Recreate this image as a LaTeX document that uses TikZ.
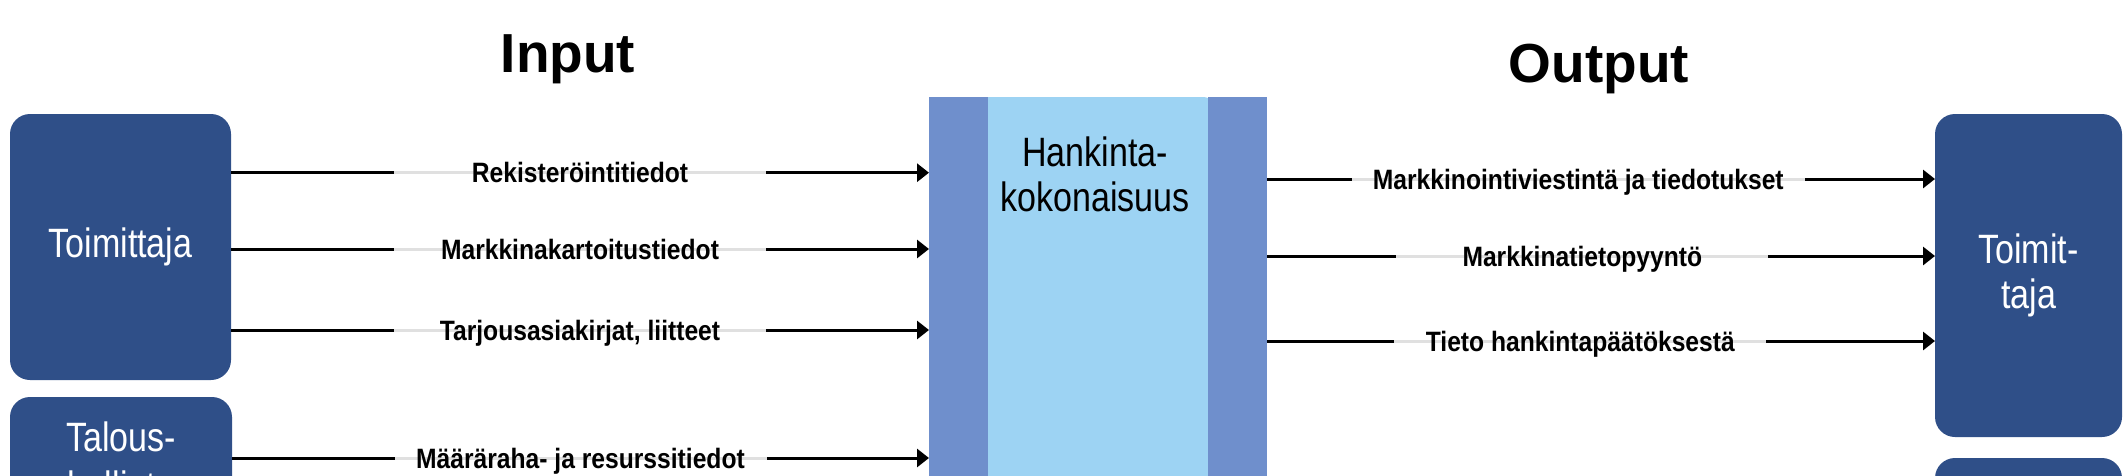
\documentclass[tikz,border=0pt]{standalone}
\usepackage{fontspec}
\setmainfont{Liberation Sans}
\newfontfamily\narrowsans[FakeStretch=0.83]{Liberation Sans}
\newfontfamily\labelsans[FakeStretch=0.88]{Liberation Sans}
\usepackage{tikz}
\usetikzlibrary{arrows.meta}
\usetikzlibrary{positioning}
\definecolor{actorblue}{RGB}{47,79,136}
\definecolor{bandblue}{RGB}{111,143,204}
\definecolor{coreblue}{RGB}{157,211,243}
\newcommand{\flowwidth}{3pt}
\newcommand{\bandheight}{520pt}
\tikzstyle{actor}=[fill=actorblue, rounded corners=20pt, text=white, align=center, font=\narrowsans\fontsize{41}{45}\selectfont]
\tikzstyle{band}=[fill=bandblue, anchor=north west, minimum width=59pt, minimum height=\bandheight]
\tikzstyle{core}=[fill=coreblue, anchor=north west, rounded corners=8pt, minimum width=232pt, minimum height=\bandheight]
\tikzstyle{flow}=[line width=\flowwidth, -{Triangle[length=12pt, width=18pt]}]
\tikzstyle{flowlabel}=[fill=white, fill opacity=0.88, text opacity=1, minimum width=372pt, inner xsep=21pt,
                       minimum height=35pt, text height=20pt, text depth=0pt,
                       font=\labelsans\bfseries\fontsize{28}{30}\selectfont]
\tikzstyle{heading}=[anchor=base, font=\bfseries\fontsize{55}{60}\selectfont]

\begin{document}
\begin{tikzpicture}[x=1pt, y=-1pt,
                    % No padding, so that connectors touch the boxes.
                    every node/.style={inner sep=0, outer sep=0}]
  \useasboundingbox (0,0) rectangle (2128,475);
  \node[heading] (input) at (568,72) {Input};
  \node[heading] (output) at (1599,82) {Output};

  % Procurement column.
  \node[core] (proc) at (980,97) {};
  \node[band] (bandL) at (929,97) {};
  \node[band] (bandR) at (1208,97) {};
  \node[anchor=north, align=center, font=\narrowsans\fontsize{41}{45}\selectfont] (proctext) at (1095,137) {Hankinta-\\kokonaisuus};

  % Parties.
  \node[actor, minimum width=221pt, minimum height=266pt] (suppL) at (120.5,247) {Toimittaja};
  \node[actor, minimum width=222pt, minimum height=128pt, font=\narrowsans\fontsize{41}{49}\selectfont] (finance) at (121,461) {Talous-\\hallinto};
  \node[actor, minimum width=187pt, minimum height=323pt] (suppR) at (2028.5,275.5) {Toimit-\\taja};
  \node[actor, anchor=north, minimum width=187pt, minimum height=150pt] (other) at (2028.5,458) {};

  \coordinate (in1) at (0,172.7);
  \coordinate (in2) at (0,249);
  \coordinate (in3) at (0,330);
  \coordinate (in4) at (0,458);
  \coordinate (out1) at (0,179);
  \coordinate (out2) at (0,256);
  \coordinate (out3) at (0,341);

  \draw[flow] (suppL.east |- in1) -- (bandL.west |- in1) node[flowlabel, pos=0.5] {Rekisteröintitiedot};
  \draw[flow] (suppL.east |- in2) -- (bandL.west |- in2) node[flowlabel, pos=0.5] {Markkinakartoitustiedot};
  \draw[flow] (suppL.east |- in3) -- (bandL.west |- in3) node[flowlabel, pos=0.5] {Tarjousasiakirjat, liitteet};
  \draw[flow] (finance.east |- in4) -- (bandL.west |- in4) node[flowlabel, pos=0.5] {Määräraha- ja resurssitiedot};

  \draw[flow] (bandR.east |- out1) -- (suppR.west |- out1) node[flowlabel, pos=0.466] {Markkinointiviestintä ja tiedotukset};
  \draw[flow] (bandR.east |- out2) -- (suppR.west |- out2) node[flowlabel, pos=0.472] {Markkinatietopyyntö};
  \draw[flow] (bandR.east |- out3) -- (suppR.west |- out3) node[flowlabel, pos=0.469] {Tieto hankintapäätöksestä};
\end{tikzpicture}
\end{document}
